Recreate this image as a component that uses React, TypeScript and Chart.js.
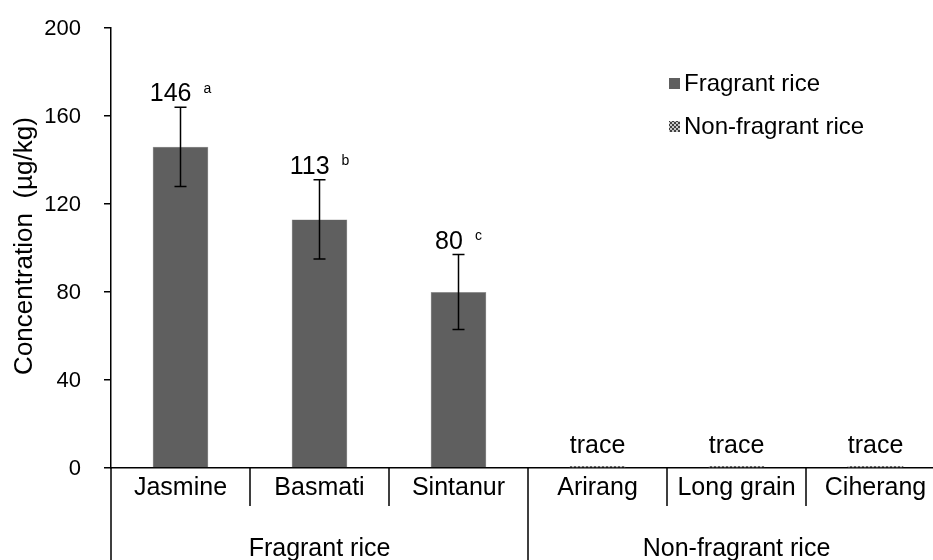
import React, { useEffect, useRef } from "react";
import { Chart, registerables } from "chart.js";

Chart.register(...registerables);

const categories = ["Jasmine", "Basmati", "Sintanur", "Arirang", "Long grain", "Ciherang"];
const groups = ["Fragrant rice", "Non-fragrant rice"];
const fragrantValues = [146, 113, 80, null, null, null];
const fragrantErrors = [18, 18, 17, 0, 0, 0];
const fragrantLetters = ["a", "b", "c", "", "", ""];
const nonFragrantValues = [null, null, null, 0.8, 0.8, 0.8];
const traceLabel = "trace";
const yTicks = [0, 40, 80, 120, 160, 200];
const yTitle = "Concentration  (\u00b5g/kg)";
const legendLabels = ["Fragrant rice", "Non-fragrant rice"];

const FONT = "'Liberation Sans', Arial, sans-serif";
const BAR = "#5f5f5f";

function makePattern(): CanvasPattern | string {
  const c = document.createElement("canvas");
  c.width = 4;
  c.height = 4;
  const g = c.getContext("2d");
  if (!g) return "#888";
  g.fillStyle = "#c8c8c8";
  g.fillRect(0, 0, 4, 4);
  g.fillStyle = "#404040";
  g.fillRect(0, 0, 2, 2);
  g.fillRect(2, 2, 2, 2);
  const p = g.createPattern(c, "repeat");
  return p || "#888";
}

export default function App() {
  const ref = useRef<HTMLCanvasElement>(null);
  useEffect(() => {
    if (!ref.current) return;
    const pattern = makePattern();
    const deco = {
      id: "deco",
      afterDatasetsDraw(chart: any) {
        const ctx = chart.ctx as CanvasRenderingContext2D;
        const y = chart.scales.y;
        const area = chart.chartArea;
        ctx.save();
        ctx.fillStyle = "#000";
        // y tick labels
        ctx.font = `22px ${FONT}`;
        ctx.textAlign = "right";
        ctx.textBaseline = "middle";
        yTicks.forEach((t) => {
          ctx.fillText(String(t), 81, y.getPixelForValue(t) + 1);
        });
        // y title
        ctx.save();
        ctx.translate(25, (area.top + area.bottom) / 2 - 2);
        ctx.rotate(-Math.PI / 2);
        ctx.font = `26px ${FONT}`;
        ctx.textAlign = "center";
        ctx.textBaseline = "middle";
        ctx.fillText(yTitle, 0, 0);
        ctx.restore();
        // error bars + labels
        const meta0 = chart.getDatasetMeta(0);
        ctx.strokeStyle = "#000";
        ctx.lineWidth = 1.5;
        fragrantValues.forEach((v, i) => {
          if (v == null) return;
          const bx = meta0.data[i].x;
          const e = fragrantErrors[i];
          const yt = y.getPixelForValue(v + e);
          const yb = y.getPixelForValue(v - e);
          ctx.beginPath();
          ctx.moveTo(bx, yt);
          ctx.lineTo(bx, yb);
          ctx.moveTo(bx - 6, yt);
          ctx.lineTo(bx + 6, yt);
          ctx.moveTo(bx - 6, yb);
          ctx.lineTo(bx + 6, yb);
          ctx.stroke();
          const num = String(v);
          const lt = fragrantLetters[i];
          ctx.font = `25px ${FONT}`;
          const wn = ctx.measureText(num).width;
          ctx.font = `14px ${FONT}`;
          const wl = ctx.measureText(lt).width;
          const gap = 12;
          const sx = bx - (wn + gap + wl) / 2;
          const base = yt - 6;
          ctx.textAlign = "left";
          ctx.textBaseline = "alphabetic";
          ctx.font = `25px ${FONT}`;
          ctx.fillText(num, sx, base);
          ctx.font = `14px ${FONT}`;
          ctx.fillText(lt, sx + wn + gap, base - 8.5);
        });
        // trace labels
        const meta1 = chart.getDatasetMeta(1);
        ctx.font = `25px ${FONT}`;
        ctx.textAlign = "center";
        ctx.textBaseline = "alphabetic";
        nonFragrantValues.forEach((v, i) => {
          if (v == null) return;
          ctx.fillText(traceLabel, meta1.data[i].x, 453);
        });
        // x axis decorations
        const cw = (area.right - area.left) / categories.length;
        const bottom = chart.height;
        ctx.beginPath();
        ctx.moveTo(area.left, area.bottom);
        ctx.lineTo(area.left, bottom);
        for (let k = 1; k <= categories.length; k++) {
          const px = area.left + k * cw;
          ctx.moveTo(px, area.bottom);
          ctx.lineTo(px, k % 3 === 0 ? bottom : area.bottom + 38);
        }
        ctx.stroke();
        ctx.font = `25px ${FONT}`;
        ctx.textAlign = "center";
        ctx.textBaseline = "middle";
        categories.forEach((c, i) => {
          ctx.fillText(c, area.left + (i + 0.5) * cw, 488);
        });
        groups.forEach((g, gi) => {
          ctx.fillText(g, area.left + (gi * 3 + 1.5) * cw, 549);
        });
        // legend
        const fills: any[] = [BAR, pattern];
        const cys = [83, 126];
        legendLabels.forEach((lab, i) => {
          ctx.fillStyle = fills[i];
          ctx.fillRect(669, cys[i] - 5, 11, 11);
          ctx.fillStyle = "#000";
          ctx.textAlign = "left";
          ctx.textBaseline = "middle";
          ctx.font = `24px ${FONT}`;
          ctx.fillText(lab, 684, cys[i] + 1);
        });
        ctx.restore();
      },
    };
    const chart = new Chart(ref.current, {
      type: "bar",
      data: {
        labels: categories,
        datasets: [
          {
            label: legendLabels[0],
            data: fragrantValues as any,
            backgroundColor: BAR,
            borderColor: "#8a8a8a",
            borderWidth: 0.5,
            grouped: false,
            barPercentage: 0.4,
            categoryPercentage: 1,
          } as any,
          {
            label: legendLabels[1],
            data: nonFragrantValues as any,
            backgroundColor: pattern as any,
            borderWidth: 0,
            grouped: false,
            barPercentage: 0.4,
            categoryPercentage: 1,
          } as any,
        ],
      },
      options: {
        responsive: false,
        animation: false,
        devicePixelRatio: 1,
        layout: { padding: { top: 28, right: 15, left: 0, bottom: 0 } },
        plugins: {
          legend: { display: false },
          tooltip: { enabled: false },
        },
        scales: {
          x: {
            grid: { display: false, drawTicks: false },
            border: { display: true, color: "#000", width: 1.5 },
            ticks: { display: false },
            afterFit(scale: any) {
              scale.height = 92;
            },
          },
          y: {
            min: 0,
            max: 200,
            afterBuildTicks(scale: any) {
              scale.ticks = yTicks.map((v) => ({ value: v }));
            },
            grid: {
              display: true,
              drawOnChartArea: false,
              drawTicks: true,
              tickLength: 7,
              color: "#000",
              lineWidth: 1.5,
            },
            border: { display: true, color: "#000", width: 1.5 },
            ticks: { display: false },
            afterFit(scale: any) {
              scale.width = 111;
            },
          },
        },
      },
      plugins: [deco],
    });
    return () => chart.destroy();
  }, []);
  return (
    <div
      style={{
        position: "fixed",
        left: 0,
        top: 0,
        width: 933,
        height: 560,
        overflow: "hidden",
        background: "#fff",
      }}
    >
      <canvas ref={ref} width={960} height={560} style={{ width: 960, height: 560, display: "block" }} />
    </div>
  );
}
